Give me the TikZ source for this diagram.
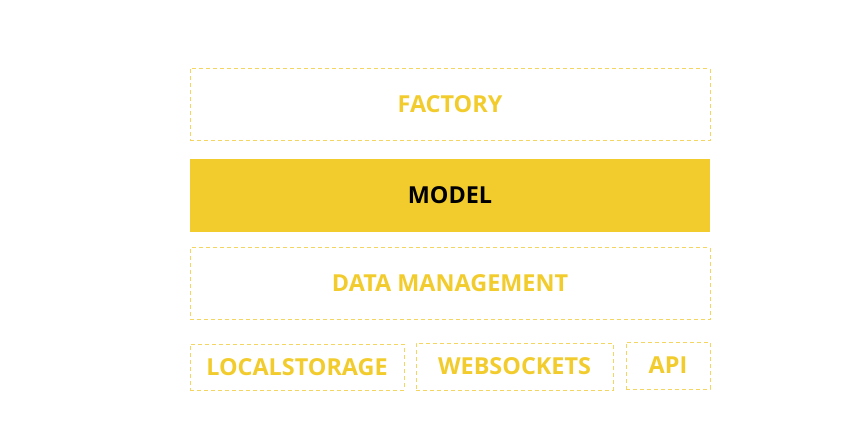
\documentclass[tikz,border=0pt]{standalone}
\usepackage{fontspec}
\setmainfont{Open Sans}
\definecolor{ylw}{HTML}{F2CC2D}
\definecolor{ylwline}{HTML}{F4D560}
\begin{document}
\begin{tikzpicture}[x=1pt,y=-1pt,
  layer/.style={draw=ylwline, line width=0.9pt, dash pattern=on 4pt off 3pt, text=ylw,
    font=\fontsize{23.4}{28}\selectfont\bfseries, inner sep=0pt},
  core/.style={fill=ylw, draw=none, text=black, font=\fontsize{23.4}{28}\selectfont\bfseries, inner sep=0pt}]
\useasboundingbox[fill=white] (0,0) rectangle (867,444);
\node[layer, minimum width=520pt, minimum height=72pt] (factory) at (450,104.5) {FACTORY};
\node[core, minimum width=520pt, minimum height=73pt] (model) at (450,195) {MODEL};
\node[layer, minimum width=520pt, minimum height=72pt] (data) at (450,283.5) {DATA MANAGEMENT};
\node[layer, minimum width=214pt, minimum height=46pt] (local) at (297,367) {LOCALSTORAGE};
\node[layer, minimum width=197pt, minimum height=47pt] (ws) at (514.5,366.5) {WEBSOCKETS};
\node[layer, minimum width=84pt, minimum height=47pt] (api) at (668,365.5) {API};
\end{tikzpicture}
\end{document}
